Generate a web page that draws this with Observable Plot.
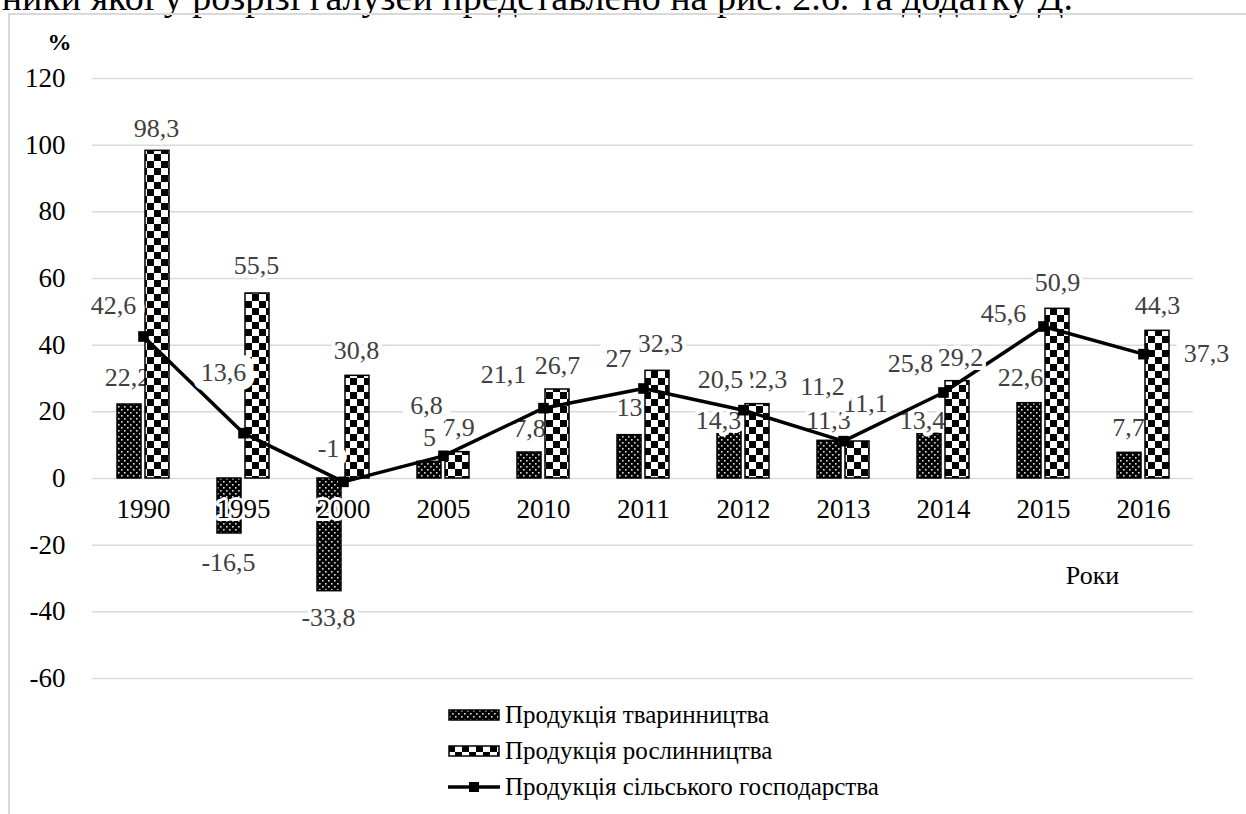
<!DOCTYPE html>
<html>
<head>
<meta charset="utf-8">
<script src="https://cdn.jsdelivr.net/npm/d3@7"></script>
<script src="https://cdn.jsdelivr.net/npm/@observablehq/plot@0.6"></script>
<style>
  html, body { margin: 0; padding: 0; background: #fff; }
  body { width: 1246px; height: 814px; position: relative; overflow: hidden; color: #000; }
  #lead, #legend { font-family: 'Liberation Serif', 'Times New Roman', serif; }
  #lead { position: absolute; right: 173px; top: -22px; font-size: 38px; line-height: 38px; white-space: nowrap; }
  #frame { position: absolute; left: 8px; top: 13px; width: 1400px; height: 900px;
           border-left: 2px solid #d9d9d9; border-top: 2px solid #d9d9d9; }
  #chart { position: absolute; left: 0; top: 0; }
  #legend { position: absolute; left: 448px; top: 697px; font-size: 25px; }
  #legend .row { display: flex; align-items: center; height: 36px; }
  #legend svg { margin-right: 5px; flex: none; }
</style>
</head>
<body>
<svg width="0" height="0" style="position:absolute">
  <defs>
    <pattern id="dots" width="6" height="6" patternUnits="userSpaceOnUse">
      <rect width="6" height="6" fill="#000"/>
      <rect x="1" y="1" width="1.6" height="1.6" fill="#ddd"/>
      <rect x="4" y="4" width="1.6" height="1.6" fill="#ddd"/>
    </pattern>
    <pattern id="checks" width="14" height="14" patternUnits="userSpaceOnUse">
      <rect width="14" height="14" fill="#fff"/>
      <rect width="7" height="7" fill="#000"/>
      <rect x="7" y="7" width="7" height="7" fill="#000"/>
    </pattern>
  </defs>
</svg>
<div id="lead">ники якої у розрізі галузей представлено на рис. 2.6. та додатку Д.</div>
<div id="frame"></div>
<div id="chart"></div>
<div id="legend"></div>
<script>
// Growth of agricultural output by branch, % to previous period
const years = ["1990", "1995", "2000", "2005", "2010", "2011", "2012", "2013", "2014", "2015", "2016"];
const livestock = [22.2, -16.5, -33.8, 5, 7.8, 13, 14.3, 11.3, 13.4, 22.6, 7.7];
const crops = [98.3, 55.5, 30.8, 7.9, 26.7, 32.3, 22.3, 11.1, 29.2, 50.9, 44.3];
const agriculture = [42.6, 13.6, -1, 6.8, 21.1, 27, 20.5, 11.2, 25.8, 45.6, 37.3];
const seriesNames = ["Продукція тваринництва", "Продукція рослинництва", "Продукція сільського господарства"];
const yTicks = [-60, -40, -20, 0, 20, 40, 60, 80, 100, 120];
const yUnit = "%";
const xTitle = "Роки";

// Hand-placed label nudges [dx, dy] in pixels, one per year
const livestockNudge = [[-16,-27],[-15,29],[-15,27],[-14,-24],[-14,-24],[-14,-27],[-25,-10],[-15,-20],[-21,-13],[-23,-25],[-15,-25]];
const cropsNudge = [[13,-22],[13,-28],[13,-25],[15,-24],[14,-24],[17,-27],[21,-24],[22,-38],[17,-23],[14,-26],[14,-25]];
const agricultureNudge = [[-30,-31],[-20,-60],[-15,-33],[-17,-50],[-40,-33],[-25,-30],[-23,-30],[-21,-54],[-33,-29],[-40,-13],[63,0]];

const rows = years.map((year, i) => ({year, livestock: livestock[i], crops: crops[i], agriculture: agriculture[i]}));
const fmt = v => String(v).replace(".", ",");

const serif = "'Liberation Serif', 'Times New Roman', serif";
const labelColor = "#404040";
const font = 26;

// Value labels sit on a white backing, like boxed data labels
function valueLabels(key, nudges, pad) {
  return rows.map((d, i) => Plot.text([d], {
    x: "year", y: key, text: dd => fmt(dd[key]),
    dx: nudges[i][0], dy: nudges[i][1],
    fill: labelColor, fontSize: font, fontFamily: serif,
    stroke: "white", strokeWidth: pad, strokeLinejoin: "round"
  }));
}

const chart = Plot.plot({
  width: 1246,
  height: 700,
  marginTop: 78,
  marginBottom: 22,
  marginLeft: 92,
  marginRight: 53,
  style: `background: none; font-family: ${serif}; font-size: 26px; overflow: visible;`,
  x: {type: "band", domain: years, padding: 0, axis: null},
  y: {domain: [-60, 120], axis: null},
  marks: [
    Plot.ruleY(yTicks, {stroke: "#d9d9d9", strokeWidth: 1.5}),
    Plot.axisY(yTicks, {tickSize: 0, tickPadding: 27, fontSize: 27, fontFamily: serif, label: null, tickFormat: d => String(d), fill: "#000"}),
    Plot.text([yUnit], {frameAnchor: "top-left", textAnchor: "middle", lineAnchor: "middle", dx: -33, dy: -36, fontSize: 24, fontFamily: serif, fontWeight: "bold", fill: "#000"}),
    Plot.text([xTitle], {frameAnchor: "bottom-right", textAnchor: "middle", lineAnchor: "middle", dx: -101, dy: -103, fontSize: font, fontFamily: serif, fill: "#000"}),
    Plot.barY(rows, {x: "year", y: "livestock", fill: "url(#dots)", stroke: "#000", strokeWidth: 1.5, insetLeft: 24, insetRight: 52}),
    ...valueLabels("livestock", livestockNudge, 8),
    Plot.barY(rows, {x: "year", y: "crops", fill: "url(#checks)", stroke: "#000", strokeWidth: 1.5, insetLeft: 52, insetRight: 24}),
    Plot.text(years, {x: d => d, y: 0, dy: 31, fontSize: 27, fontFamily: serif, fill: "#000", stroke: "white", strokeWidth: 6, strokeLinejoin: "round"}),
    Plot.lineY(rows, {x: "year", y: "agriculture", stroke: "#000", strokeWidth: 3.5}),
    Plot.dot(rows, {x: "year", y: "agriculture", symbol: "square", r: 6, fill: "#000", stroke: null}),
    ...valueLabels("crops", cropsNudge, 8),
    ...valueLabels("agriculture", agricultureNudge, 18)
  ]
});
document.getElementById("chart").appendChild(chart);

// Legend built from the series names
const swatches = [
  `<rect x="1" y="1" width="50" height="10" fill="url(#dots)" stroke="#000" stroke-width="1.5"/>`,
  `<rect x="1" y="1" width="50" height="10" fill="url(#checks)" stroke="#000" stroke-width="1.5"/>`,
  `<line x1="0" y1="6" x2="52" y2="6" stroke="#000" stroke-width="3.5"/><rect x="21" y="1" width="10" height="10" fill="#000"/>`
];
const legend = document.getElementById("legend");
seriesNames.forEach((name, i) => {
  const row = document.createElement("div");
  row.className = "row";
  row.innerHTML = `<svg width="52" height="12" viewBox="0 0 52 12">${swatches[i]}</svg>`;
  const span = document.createElement("span");
  span.textContent = name;
  row.appendChild(span);
  legend.appendChild(row);
});
</script>
</body>
</html>
